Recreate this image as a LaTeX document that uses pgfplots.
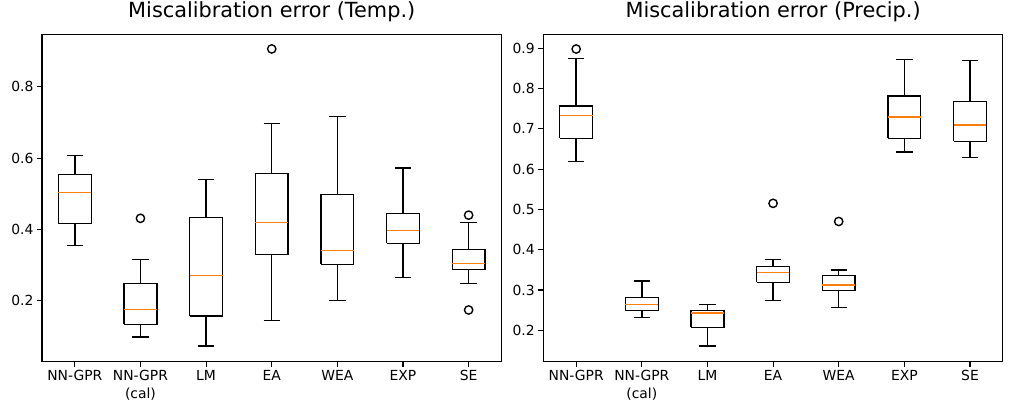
\documentclass[border=0pt]{standalone}
\usepackage{fontspec}
\setmainfont{DejaVu Sans}
\usepackage{pgfplots}
\pgfplotsset{compat=1.18}

\definecolor{mplorange}{HTML}{FF7F0E}

\pgfplotsset{
  boxline/.style={black, solid, line width=1pt, no marks},
  medline/.style={mplorange, solid, line width=1pt, no marks},
  flier/.style={only marks, mark=o, mark size=3pt, black, line width=1pt},
  mplaxis/.style={
    scale only axis,
    width=330.8pt, height=235.7pt,
    anchor=south west,
    xmin=0.5, xmax=7.5,
    axis line style={line width=0.8pt},
    tick align=outside,
    tick pos=left,
    major tick length=3.5pt,
    every tick/.style={black, line width=0.8pt},
    xtick={1,...,7},
    xticklabels={NN-GPR,{NN-GPR\\(cal)},LM,EA,WEA,EXP,SE},
    x tick label style={align=center, font=\fontsize{10}{12.6}\selectfont, inner sep=1pt, yshift=-1.5pt},
    y tick label style={font=\fontsize{10}{12}\selectfont, inner sep=1pt, xshift=-1.5pt},
    /pgf/number format/assume math mode=true,
    yticklabel style={/pgf/number format/fixed, /pgf/number format/precision=1, /pgf/number format/fixed zerofill},
    title style={font=\fontsize{15}{18}\selectfont, at={(0.5,1)}, anchor=base, inner sep=0pt, yshift=6pt},
  },
}

% one box: position, lower whisker, Q1, median, Q3, upper whisker
\newcommand{\mplbox}[6]{%
  \pgfmathsetmacro{\xa}{#1-0.25}\pgfmathsetmacro{\xb}{#1+0.25}%
  \pgfmathsetmacro{\ca}{#1-0.125}\pgfmathsetmacro{\cb}{#1+0.125}%
  \addplot[boxline] coordinates {(#1,#3) (#1,#2)};
  \addplot[boxline] coordinates {(#1,#5) (#1,#6)};
  \addplot[boxline] coordinates {(\ca,#2) (\cb,#2)};
  \addplot[boxline] coordinates {(\ca,#6) (\cb,#6)};
  \addplot[boxline] coordinates {(\xa,#3) (\xb,#3) (\xb,#5) (\xa,#5) (\xa,#3)};
  \addplot[medline] coordinates {(\xa,#4) (\xb,#4)};
}

\begin{document}
\begin{tikzpicture}
\useasboundingbox (0,0) rectangle (727.9pt,295.92pt);

% ---------------- Temperature ----------------
\begin{axis}[mplaxis, at={(30.24pt,35.5pt)},
  ymin=0.029, ymax=0.947,
  ytick={0.2,0.4,0.6,0.8},
  title={Miscalibration error (Temp.)}]
\mplbox{1}{0.355}{0.417}{0.504}{0.554}{0.607}
\mplbox{2}{0.098}{0.134}{0.176}{0.249}{0.316}
\mplbox{3}{0.073}{0.157}{0.271}{0.433}{0.540}
\mplbox{4}{0.145}{0.330}{0.420}{0.557}{0.697}
\mplbox{5}{0.201}{0.302}{0.341}{0.498}{0.717}
\mplbox{6}{0.265}{0.361}{0.397}{0.445}{0.572}
\mplbox{7}{0.249}{0.288}{0.305}{0.344}{0.420}
\addplot[flier] coordinates {(2,0.431) (4,0.906) (7,0.440) (7,0.174)};
\end{axis}

% ---------------- Precipitation ----------------
\begin{axis}[mplaxis, at={(391.2pt,35.5pt)},
  ymin=0.122, ymax=0.9345,
  ytick={0.2,0.3,0.4,0.5,0.6,0.7,0.8,0.9},
  title={Miscalibration error (Precip.)}]
\mplbox{1}{0.619}{0.676}{0.733}{0.757}{0.874}
\mplbox{2}{0.232}{0.249}{0.2645}{0.282}{0.322}
\mplbox{3}{0.161}{0.207}{0.243}{0.249}{0.2645}
\mplbox{4}{0.274}{0.319}{0.344}{0.359}{0.376}
\mplbox{5}{0.257}{0.299}{0.312}{0.336}{0.350}
\mplbox{6}{0.642}{0.676}{0.729}{0.781}{0.872}
\mplbox{7}{0.629}{0.669}{0.709}{0.768}{0.870}
\addplot[flier] coordinates {(1,0.898) (4,0.515) (5,0.470)};
\end{axis}
\end{tikzpicture}
\end{document}
